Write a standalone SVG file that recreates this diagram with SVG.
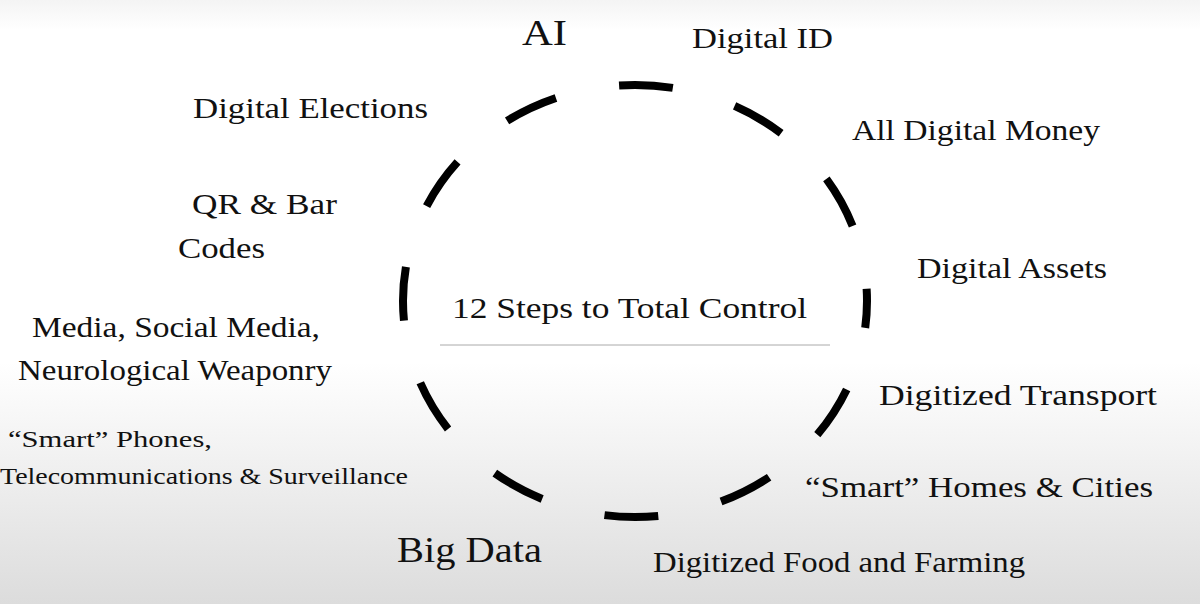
<svg xmlns="http://www.w3.org/2000/svg" width="1200" height="604" viewBox="0 0 1200 604">
<defs>
<linearGradient id="bg" x1="0" y1="0" x2="0" y2="1">
<stop offset="0" stop-color="#f4f4f4"/>
<stop offset="0.05" stop-color="#ffffff"/>
<stop offset="0.6" stop-color="#ffffff"/>
<stop offset="1" stop-color="#dcdcdc"/>
</linearGradient>
<style>
text{font-family:"Liberation Serif","DejaVu Serif",serif;fill:#111;font-size:30px}
.s{font-size:24px}.b{font-size:36px}
</style>
</defs>
<rect width="1200" height="604" fill="url(#bg)"/>
<g id="connectors">
<ellipse cx="635" cy="301" rx="232" ry="216" fill="none" stroke="#000" stroke-width="8" stroke-dasharray="54 64.5" stroke-dashoffset="27"/>
<line x1="440" y1="345" x2="830" y2="345" stroke="#aaa" stroke-width="1"/>
</g>
<g id="center"><text x="452" y="318" textLength="355" lengthAdjust="spacingAndGlyphs">12 Steps to Total Control</text></g>
<g id="ai"><text class="b" x="522" y="45" textLength="45" lengthAdjust="spacingAndGlyphs">AI</text></g>
<g id="digital-id"><text x="692" y="48" textLength="141" lengthAdjust="spacingAndGlyphs">Digital ID</text></g>
<g id="elections"><text x="193" y="118" textLength="235" lengthAdjust="spacingAndGlyphs">Digital Elections</text></g>
<g id="money"><text x="852" y="140" textLength="248" lengthAdjust="spacingAndGlyphs">All Digital Money</text></g>
<g id="qr"><text x="192" y="214" textLength="145" lengthAdjust="spacingAndGlyphs">QR &amp; Bar</text><text x="178" y="258" textLength="87" lengthAdjust="spacingAndGlyphs">Codes</text></g>
<g id="assets"><text x="917" y="278" textLength="190" lengthAdjust="spacingAndGlyphs">Digital Assets</text></g>
<g id="media"><text x="32" y="337" textLength="288" lengthAdjust="spacingAndGlyphs">Media, Social Media,</text><text x="18" y="380" textLength="314" lengthAdjust="spacingAndGlyphs">Neurological Weaponry</text></g>
<g id="transport"><text x="879" y="405" textLength="278" lengthAdjust="spacingAndGlyphs">Digitized Transport</text></g>
<g id="phones"><text class="s" x="8" y="447" textLength="204" lengthAdjust="spacingAndGlyphs">“Smart” Phones,</text><text class="s" x="0" y="484" textLength="408" lengthAdjust="spacingAndGlyphs">Telecommunications &amp; Surveillance</text></g>
<g id="homes"><text x="805" y="497" textLength="348" lengthAdjust="spacingAndGlyphs">“Smart” Homes &amp; Cities</text></g>
<g id="bigdata"><text class="b" x="397" y="562" textLength="145" lengthAdjust="spacingAndGlyphs">Big Data</text></g>
<g id="food"><text x="653" y="572" textLength="372" lengthAdjust="spacingAndGlyphs">Digitized Food and Farming</text></g>
</svg>
